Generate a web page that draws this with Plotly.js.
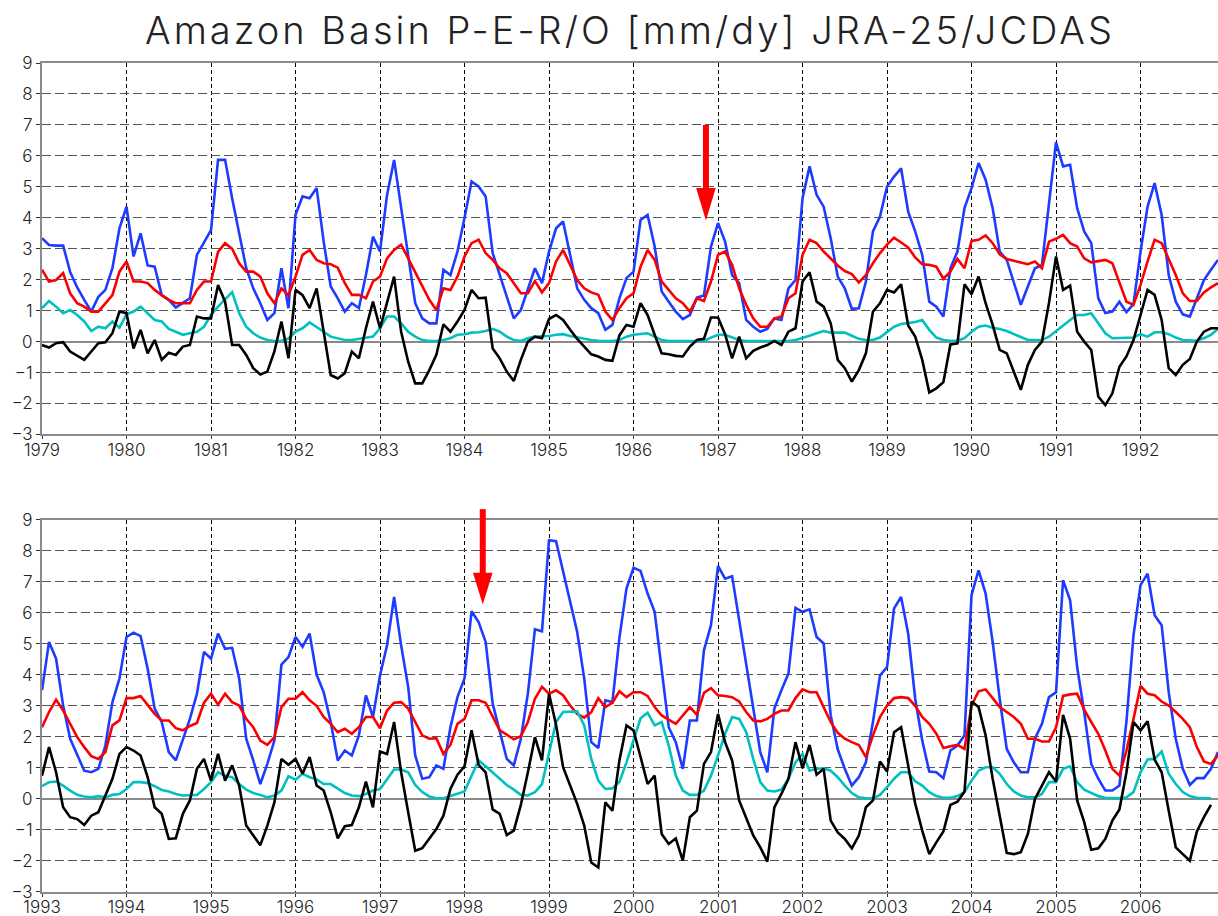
<!DOCTYPE html>
<html>
<head>
<meta charset="utf-8">
<script src="https://cdn.plot.ly/plotly-3.0.1.min.js"></script>
<style>
html,body{margin:0;padding:0;background:#fff;}
#chart{width:1218px;height:916px;}
.gtitle{letter-spacing:3px;}
</style>
</head>
<body>
<div id="chart"></div>
<script>
// ---------------- DATA (monthly, Jan..Dec per row) ----------------
const TITLE = "Amazon Basin P-E-R/O [mm/dy] JRA-25/JCDAS";

const YEARS_TOP = [1979,1980,1981,1982,1983,1984,1985,1986,1987,1988,1989,1990,1991,1992];
const YEARS_BOTTOM = [1993,1994,1995,1996,1997,1998,1999,2000,2001,2002,2003,2004,2005,2006];

// blue : P
const P_TOP = [
 3.34,3.12,3.1,3.1,2.25,1.75,1.35,0.97,1.45,1.67,2.37,3.66,
 4.36,2.75,3.5,2.46,2.42,1.5,1.35,1.1,1.25,1.4,2.8,3.18,
 3.6,5.87,5.87,4.63,3.45,2.37,1.72,1.24,0.7,0.92,2.37,1.08,
 4.1,4.69,4.63,4.96,3.23,1.78,1.4,0.97,1.24,1.08,2.15,3.39,
 2.91,4.74,5.87,4.31,2.8,1.24,0.75,0.59,0.59,2.32,2.15,2.91,
 3.99,5.17,5.01,4.69,2.86,2.15,1.51,0.75,1.02,1.72,2.37,1.89,
 2.91,3.66,3.88,2.8,1.72,1.35,1.08,0.92,0.38,0.54,1.4,2.05,
 2.26,3.93,4.09,3.07,1.62,1.29,0.97,0.73,0.86,1.42,1.49,3.07,
 3.83,3.23,2.15,1.89,0.7,0.48,0.32,0.41,0.75,0.7,1.72,1.99,
 4.63,5.66,4.74,4.36,3.34,2.1,1.72,1.06,1.08,1.94,3.56,4.04,
 5.01,5.33,5.6,4.2,3.56,2.8,1.29,1.13,0.81,2.37,2.91,4.31,
 4.96,5.77,5.23,4.31,2.91,2.64,1.94,1.19,1.78,2.37,2.48,4.45,
 6.44,5.66,5.71,4.31,3.56,3.18,1.4,0.92,0.97,1.29,0.95,1.21,
 2.91,4.36,5.12,4.09,2.15,1.29,0.88,0.81,1.4,1.99,2.32,2.64
];
// red : E
const E_TOP = [
 2.32,1.94,1.99,2.21,1.56,1.24,1.13,0.97,0.97,1.24,1.5,2.26,
 2.59,1.94,1.94,1.89,1.67,1.5,1.35,1.24,1.24,1.24,1.67,1.94,
 1.94,2.9,3.18,3.0,2.53,2.26,2.26,2.1,1.56,1.24,1.72,1.5,
 2.1,2.8,2.96,2.64,2.53,2.5,2.39,1.89,1.51,1.51,1.4,1.94,
 2.1,2.69,2.96,3.13,2.69,2.26,1.78,1.35,1.02,1.72,1.67,2.1,
 2.75,3.18,3.29,2.86,2.64,2.37,2.21,1.89,1.56,1.56,1.96,1.59,
 1.89,2.59,2.96,2.48,1.99,1.72,1.59,1.51,0.97,0.7,1.08,1.4,
 1.56,2.42,2.96,2.64,1.94,1.67,1.4,1.24,0.97,1.4,1.31,1.94,
 2.8,2.91,2.48,1.72,1.19,0.75,0.48,0.48,0.75,0.81,1.4,1.56,
 2.8,3.29,3.18,2.91,2.67,2.46,2.28,2.18,1.91,2.15,2.53,2.86,
 3.13,3.36,3.2,3.04,2.72,2.5,2.48,2.42,2.03,2.26,2.67,2.37,
 3.25,3.29,3.43,3.18,2.82,2.67,2.61,2.56,2.5,2.59,2.37,3.23,
 3.32,3.45,3.18,3.07,2.69,2.56,2.59,2.64,2.53,1.94,1.29,1.19,
 1.83,2.59,3.29,3.18,2.69,2.15,1.56,1.31,1.31,1.59,1.75,1.89
];
// cyan : R/O
const RO_TOP = [
 1.08,1.31,1.13,0.92,1.02,0.86,0.65,0.34,0.48,0.43,0.65,0.45,
 0.88,0.97,1.13,0.92,0.7,0.65,0.41,0.32,0.22,0.27,0.32,0.48,
 0.86,1.13,1.35,1.6,0.92,0.48,0.27,0.13,0.05,0.02,0.02,0.1,
 0.32,0.43,0.62,0.48,0.32,0.16,0.11,0.05,0.05,0.09,0.11,0.16,
 0.43,0.81,0.81,0.59,0.32,0.16,0.05,0.02,0.02,0.05,0.11,0.22,
 0.24,0.29,0.3,0.34,0.41,0.32,0.16,0.05,0.02,0.11,0.16,0.16,
 0.18,0.22,0.24,0.18,0.13,0.09,0.05,0.03,0.02,0.02,0.05,0.16,
 0.22,0.24,0.27,0.16,0.05,0.02,0.02,0.02,0.02,0.02,0.02,0.13,
 0.22,0.22,0.13,0.05,0.02,0.02,0.02,0.02,0.02,0.02,0.02,0.05,
 0.11,0.19,0.27,0.34,0.29,0.29,0.29,0.19,0.09,0.05,0.05,0.13,
 0.32,0.48,0.57,0.6,0.63,0.7,0.38,0.13,0.05,0.03,0.03,0.11,
 0.32,0.48,0.52,0.45,0.41,0.34,0.24,0.13,0.05,0.05,0.05,0.16,
 0.34,0.54,0.7,0.86,0.86,0.92,0.59,0.27,0.11,0.11,0.13,0.13,
 0.24,0.16,0.3,0.3,0.24,0.13,0.05,0.03,0.03,0.11,0.22,0.41
];
// black : P-E-R/O
const PER_TOP = [
 -0.11,-0.19,-0.05,-0.02,-0.32,-0.45,-0.59,-0.32,-0.05,-0.02,0.27,0.97,
 0.92,-0.22,0.38,-0.38,0.05,-0.59,-0.36,-0.43,-0.16,-0.11,0.81,0.75,
 0.75,1.83,1.29,-0.11,-0.11,-0.43,-0.86,-1.06,-0.97,-0.32,0.65,-0.54,
 1.67,1.5,1.08,1.72,0.32,-1.08,-1.19,-1.02,-0.32,-0.54,0.43,1.29,
 0.43,1.29,2.1,0.32,-0.65,-1.35,-1.35,-0.92,-0.43,0.56,0.32,0.65,
 1.02,1.67,1.4,1.42,-0.22,-0.54,-0.97,-1.27,-0.59,0,0.16,0.11,
 0.73,0.86,0.7,0.38,0.09,-0.16,-0.41,-0.48,-0.59,-0.62,0.2,0.54,
 0.48,1.24,0.86,0.22,-0.38,-0.41,-0.46,-0.48,-0.16,0.05,0.09,0.78,
 0.78,0.24,-0.54,0.16,-0.54,-0.3,-0.19,-0.11,0.02,-0.11,0.32,0.43,
 1.94,2.24,1.29,1.13,0.59,-0.59,-0.86,-1.29,-0.92,-0.38,0.97,1.24,
 1.67,1.59,1.85,0.52,0.16,-0.59,-1.64,-1.51,-1.31,-0.09,-0.06,1.85,
 1.53,2.1,1.24,0.54,-0.27,-0.38,-0.97,-1.56,-0.75,-0.27,0,1.25,
 2.75,1.67,1.81,0.32,0,-0.27,-1.78,-2.05,-1.67,-0.81,-0.48,0.05,
 0.86,1.67,1.51,0.7,-0.86,-1.08,-0.75,-0.56,0,0.32,0.43,0.43
];

const P_BOTTOM = [
 3.5,5.06,4.52,3.01,1.94,1.4,0.91,0.86,0.97,1.72,3.12,3.88,
 5.22,5.36,5.25,4.2,2.91,2.48,1.51,1.24,1.94,2.58,3.39,4.74,
 4.52,5.33,4.84,4.87,3.88,1.94,1.24,0.48,1.13,1.88,4.33,4.57,
 5.22,4.9,5.33,4.0,3.44,2.48,1.24,1.56,1.4,2.05,3.34,2.64,
 3.98,4.95,6.51,4.95,3.61,1.4,0.65,0.7,1.08,0.97,2.31,3.28,
 3.88,6.05,5.7,5.06,3.07,2.15,1.29,1.08,1.94,3.4,5.47,5.4,
 8.34,8.31,7.32,6.3,5.38,3.88,1.83,1.64,3.18,3.12,5.2,6.78,
 7.45,7.35,6.62,6.03,4.09,2.31,1.83,0.97,2.53,2.53,4.79,5.6,
 7.51,7.1,7.18,5.76,4.41,2.91,1.51,0.86,2.91,3.5,4.04,6.16,
 6.03,6.11,5.22,5.01,2.7,1.6,0.97,0.43,0.7,1.18,2.48,3.98,
 4.25,6.14,6.51,5.33,3.23,1.88,0.88,0.86,0.67,1.56,1.72,2.05,
 6.57,7.37,6.62,5.06,3.23,1.61,1.18,0.86,0.86,1.94,2.42,3.28,
 3.44,7.05,6.4,4.25,2.8,1.13,0.65,0.27,0.27,0.43,2.5,5.27,
 6.89,7.26,5.92,5.6,3.44,1.94,0.97,0.45,0.67,0.67,0.97,1.51
];
const E_BOTTOM = [
 2.31,2.8,3.2,2.85,2.42,1.99,1.67,1.38,1.29,1.51,2.37,2.53,
 3.25,3.25,3.32,3.01,2.74,2.53,2.53,2.28,2.21,2.35,2.45,3.1,
 3.39,3.04,3.39,3.12,3.01,2.58,2.31,1.88,1.74,1.99,2.96,3.23,
 3.23,3.44,3.18,3.0,2.64,2.42,2.15,2.26,2.1,2.31,2.64,2.64,
 2.28,2.85,3.1,3.12,2.91,2.48,2.05,1.94,1.96,1.45,1.74,2.42,
 2.58,3.18,3.18,3.1,2.64,2.21,2.07,1.92,2.02,2.48,3.23,3.61,
 3.39,3.5,3.34,3.01,2.74,2.62,2.8,3.25,2.96,3.1,3.47,3.28,
 3.44,3.44,3.32,2.96,2.69,2.56,2.42,2.69,2.96,2.71,3.42,3.57,
 3.34,3.32,3.28,3.14,2.8,2.53,2.5,2.58,2.74,2.85,2.85,3.25,
 3.53,3.44,3.44,2.96,2.48,2.13,1.94,1.83,1.74,1.35,2.05,2.64,
 3.01,3.25,3.28,3.25,3.0,2.64,2.42,2.1,1.64,1.7,1.74,1.61,
 3.01,3.47,3.53,3.25,2.96,2.8,2.64,2.42,1.94,1.94,1.85,1.85,
 2.31,3.32,3.37,3.39,2.88,2.48,2.1,1.56,0.97,0.75,1.56,2.58,
 3.64,3.39,3.34,3.14,3.01,2.8,2.58,2.31,1.67,1.21,1.13,1.4
];
const RO_BOTTOM = [
 0.41,0.54,0.56,0.43,0.27,0.13,0.08,0.05,0.09,0.05,0.13,0.16,
 0.32,0.54,0.54,0.51,0.41,0.29,0.24,0.16,0.11,0.11,0.13,0.32,
 0.54,0.86,0.75,0.7,0.48,0.3,0.19,0.13,0.05,0.11,0.27,0.73,
 0.62,0.81,0.7,0.63,0.48,0.48,0.34,0.19,0.11,0.09,0.16,0.27,
 0.32,0.65,0.95,0.95,0.86,0.45,0.22,0.08,0.02,0.02,0.09,0.16,
 0.24,0.75,1.24,1.05,0.86,0.65,0.45,0.3,0.13,0.11,0.22,0.48,
 1.45,2.48,2.8,2.8,2.82,2.37,1.29,0.59,0.32,0.34,0.55,1.18,
 1.88,2.6,2.78,2.37,2.48,1.72,0.75,0.27,0.13,0.13,0.27,0.75,
 1.4,2.1,2.64,2.58,2.15,1.29,0.54,0.27,0.24,0.3,0.65,1.18,
 1.45,0.91,0.97,0.99,0.91,0.7,0.43,0.19,0.05,0.02,0.02,0.13,
 0.38,0.65,0.86,0.86,0.57,0.43,0.22,0.09,0.04,0.04,0.09,0.22,
 0.59,0.91,1.02,1.02,0.81,0.48,0.24,0.11,0.05,0.05,0.16,0.54,
 0.54,0.97,1.05,0.54,0.3,0.19,0.09,0.04,0.02,0.02,0.05,0.22,
 0.86,1.27,1.29,1.53,0.81,0.48,0.22,0.09,0.04,0.02,0.02,null
];
const PER_BOTTOM = [
 0.75,1.67,0.86,-0.27,-0.59,-0.65,-0.84,-0.54,-0.43,0.11,0.65,1.45,
 1.67,1.56,1.4,0.7,-0.27,-0.48,-1.29,-1.27,-0.48,-0.05,0.97,1.29,
 0.59,1.45,0.59,1.08,0.43,-0.86,-1.18,-1.49,-0.86,-0.11,1.29,1.1,
 1.29,0.81,1.35,0.43,0.27,-0.43,-1.27,-0.88,-0.84,-0.27,0.56,-0.27,
 1.53,1.45,2.48,0.86,-0.43,-1.67,-1.59,-1.29,-0.97,-0.54,0.32,0.78,
 1.05,2.21,1.1,0.86,-0.34,-0.48,-1.16,-1.02,-0.19,0.86,1.99,1.24,
 3.39,2.39,1.02,0.43,-0.16,-0.86,-2.05,-2.21,-0.11,-0.38,1.25,2.37,
 2.21,1.35,0.48,0.75,-1.13,-1.45,-1.27,-1.99,-0.59,-0.38,1.13,1.51,
 2.74,1.83,1.24,-0.05,-0.59,-1.18,-1.56,-2.02,-0.27,0.16,0.65,1.83,
 0.99,1.74,0.78,0.97,-0.7,-1.08,-1.29,-1.59,-1.18,-0.27,-0.05,1.21,
 0.88,2.15,2.31,1.1,-0.15,-1.02,-1.78,-1.4,-1.05,-0.19,-0.09,0.24,
 3.14,2.96,2.05,0.65,-0.54,-1.74,-1.78,-1.72,-1.13,0,0.43,0.86,
 0.56,2.71,1.94,-0.05,-0.75,-1.64,-1.59,-1.29,-0.7,-0.34,0.86,2.48,
 2.21,2.5,1.27,0.86,-0.38,-1.56,-1.78,-1.99,-1.05,-0.59,-0.19,null
];

// red arrows (decimal year, value of shaft top, head base, tip)
const ARROW_X    = [1986.857, 1998.216];
const ARROW_TOP  = [7.0, 9.34];
const ARROW_BASE = [4.96, 7.29];
const ARROW_TIP  = [3.91, 6.27];

// ---------------- LAYOUT / DRAWING ----------------
const YMIN = -3, YMAX = 9;
const SPAN = 167/12;
const DOM = [[0.5519, 1.0], [0.0, 0.4491]];
const STARTS = [YEARS_TOP[0], YEARS_BOTTOM[0]];

const COL = {P:'rgb(30,60,255)', E:'rgb(250,0,0)', RO:'rgb(0,192,192)', PER:'rgb(0,0,0)'};
const LW = 2.6;

function xs(arr, start){ return arr.map((_, i) => start + i/12); }

function mk(arr, start, col, name, ax){
  return {x: xs(arr, start), y: arr, type:'scatter', mode:'lines', name:name,
          line:{color:col, width:LW}, xaxis:ax[0], yaxis:ax[1], hoverinfo:'skip',
          connectgaps:false};
}
const AX1 = ['x','y'], AX2 = ['x2','y2'];
const data = [
  mk(P_TOP, STARTS[0], COL.P, 'P', AX1),
  mk(E_TOP, STARTS[0], COL.E, 'E', AX1),
  mk(RO_TOP, STARTS[0], COL.RO, 'R/O', AX1),
  mk(PER_TOP, STARTS[0], COL.PER, 'P-E-R/O', AX1),
  mk(P_BOTTOM, STARTS[1], COL.P, 'P', AX2),
  mk(E_BOTTOM, STARTS[1], COL.E, 'E', AX2),
  mk(RO_BOTTOM, STARTS[1], COL.RO, 'R/O', AX2),
  mk(PER_BOTTOM, STARTS[1], COL.PER, 'P-E-R/O', AX2)
];

const TFONT = 'Inter, DejaVu Sans';
const TICKFONT = {family:TFONT, size:17, weight:300, color:'#222'};
function xaxisFor(years, dom){
  return {
    domain:[0,1], anchor: dom, range:[years[0], years[0]+SPAN],
    tickmode:'array', tickvals: years, ticktext: years.map(String),
    showgrid:true, gridcolor:'#000', gridwidth:1, griddash:'4px,3px',
    showline:true, linecolor:'#8a8a8a', linewidth:2, mirror:true,
    zeroline:false, ticks:'outside', ticklen:3, tickwidth:1, tickcolor:'#333',
    ticklabelstandoff:-4,
    tickfont:TICKFONT,
    fixedrange:true
  };
}
function yaxisFor(dom, anchor){
  return {
    domain: dom, anchor: anchor, range:[YMIN, YMAX],
    tickmode:'linear', tick0:YMIN, dtick:1,
    showgrid:true, gridcolor:'#555', gridwidth:1, griddash:'9px,4px',
    zeroline:true, zerolinecolor:'#8a8a8a', zerolinewidth:2,
    showline:true, linecolor:'#8a8a8a', linewidth:2, mirror:false,
    ticks:'outside', ticklen:4, tickwidth:1, tickcolor:'#333',
    ticklabelstandoff:0, tickfont:TICKFONT,
    fixedrange:true
  };
}

// arrows: converted from data units to paper units so they are not clipped
function px(year, p){ return (year - STARTS[p]) / SPAN; }
function py(v, p){ const d = DOM[p]; return d[0] + (v - YMIN)/(YMAX - YMIN)*(d[1]-d[0]); }
const SHAFT_HALF = 3.0/84.55, HEAD_HALF = 9.8/84.55;
const shapes = [];
for (let p = 0; p < 2; p++){
  const xc = ARROW_X[p];
  shapes.push({type:'rect', xref:'paper', yref:'paper',
    x0:px(xc-SHAFT_HALF,p), x1:px(xc+SHAFT_HALF,p),
    y0:py(ARROW_BASE[p]-0.05,p), y1:py(ARROW_TOP[p],p),
    fillcolor:'#ff0000', line:{width:0}, layer:'above'});
  shapes.push({type:'path', xref:'paper', yref:'paper',
    path:'M'+px(xc-HEAD_HALF,p)+','+py(ARROW_BASE[p],p)+
         ' L'+px(xc+HEAD_HALF,p)+','+py(ARROW_BASE[p],p)+
         ' L'+px(xc,p)+','+py(ARROW_TIP[p],p)+' Z',
    fillcolor:'#ff0000', line:{width:0}, layer:'above'});
}

const layout = {
  width:1218, height:916,
  margin:{l:42, r:0, t:63, b:24, pad:0},
  paper_bgcolor:'#fff', plot_bgcolor:'#fff',
  showlegend:false, hovermode:false,
  title:{text:TITLE, font:{family:TFONT, size:38, weight:300, color:'#222'},
         xref:'paper', x:0.5, xanchor:'center',
         yref:'container', y:1-31/916, yanchor:'middle'},
  xaxis: xaxisFor(YEARS_TOP, 'y'),
  yaxis: yaxisFor(DOM[0], 'x'),
  xaxis2: xaxisFor(YEARS_BOTTOM, 'y2'),
  yaxis2: yaxisFor(DOM[1], 'x2'),
  shapes: shapes
};

Plotly.newPlot('chart', data, layout, {displayModeBar:false, staticPlot:true});
</script>
</body>
</html>
